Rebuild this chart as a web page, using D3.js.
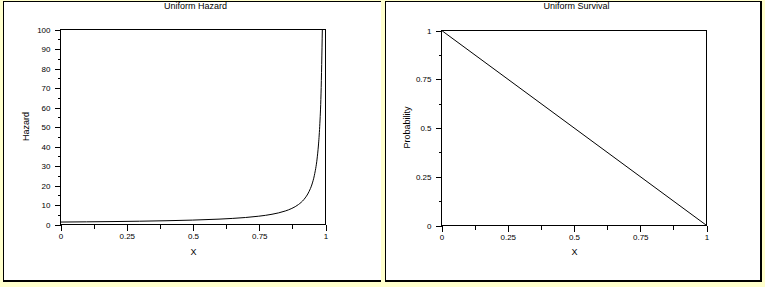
<!DOCTYPE html>
<html>
<head>
<meta charset="utf-8">
<script src="https://cdn.jsdelivr.net/npm/d3@7"></script>
<style>
  html, body { margin: 0; padding: 0; background: #ffffcc; }
  svg { display: block; }
  text { font-family: "Liberation Sans", Arial, sans-serif; fill: #000; -webkit-font-smoothing: none; }
</style>
</head>
<body>
<svg id="chart" width="765" height="287"></svg>
<script>
// values
const hazX = [0, 0.1, 0.2, 0.3, 0.4, 0.5, 0.6, 0.65, 0.7, 0.75, 0.8, 0.85, 0.875, 0.9, 0.92, 0.94, 0.95, 0.96, 0.97, 0.975, 0.98, 0.985, 0.99];
const hazY = [1, 1.11, 1.25, 1.43, 1.67, 2, 2.5, 2.86, 3.33, 4, 5, 6.67, 8, 10, 12.5, 16.7, 20, 25, 33.3, 40, 50, 66.7, 100];
const survX = [0, 1];
const survY = [1, 0];
const xTicks = [0, 0.25, 0.5, 0.75, 1];
const xMinor = [0.125, 0.375, 0.625, 0.875];
const hazTicks = [0, 10, 20, 30, 40, 50, 60, 70, 80, 90, 100];
const hazMinor = [5, 15, 25, 35, 45, 55, 65, 75, 85, 95];
const survTicks = [0, 0.25, 0.5, 0.75, 1];
const survMinor = [0.125, 0.375, 0.625, 0.875];

const svg = d3.select('#chart');

// panel frames
function frame(x0, y0, x1, y1, rightBorder) {
  svg.append('rect').attr('x', x0).attr('y', y0).attr('width', x1 - x0).attr('height', y1 - y0).attr('fill', '#fff');
  svg.append('line').attr('x1', x0 + 0.5).attr('x2', x0 + 0.5).attr('y1', y0).attr('y2', y1).attr('stroke', '#000');
  svg.append('line').attr('x1', x0).attr('x2', x1).attr('y1', y0 + 0.5).attr('y2', y0 + 0.5).attr('stroke', '#000');
  svg.append('line').attr('x1', x0).attr('x2', x1).attr('y1', y1 - 1).attr('y2', y1 - 1).attr('stroke', '#000').attr('stroke-width', 2);
  if (rightBorder) svg.append('line').attr('x1', x1 - 1).attr('x2', x1 - 1).attr('y1', y0).attr('y2', y1).attr('stroke', '#000').attr('stroke-width', 2);
}
frame(3, 1, 381, 282, false);
frame(385, 1, 762, 282, true);

function panel(o) {
  const x = d3.scaleLinear().domain([0, 1]).range([o.left, o.right]);
  const y = d3.scaleLinear().domain(o.yDomain).range([o.bottom, o.top]);
  const g = svg.append('g');

  g.append('clipPath').attr('id', o.id + 'clip').append('rect')
    .attr('x', o.left).attr('y', o.top).attr('width', o.right - o.left).attr('height', o.bottom - o.top + 1);

  // box
  g.append('rect').attr('x', o.left + 0.5).attr('y', o.top + 0.5)
    .attr('width', o.right - o.left).attr('height', o.bottom - o.top)
    .attr('fill', 'none').attr('stroke', '#000').attr('shape-rendering', 'crispEdges');

  const xAx = d3.axisBottom(x).tickValues(xTicks).tickSize(6).tickPadding(3)
    .tickFormat(d => d3.format('')(d));
  g.append('g').attr('transform', `translate(0.5,${o.bottom + 0.5})`).call(xAx);
  g.append('g').attr('transform', `translate(0.5,${o.bottom + 0.5})`)
    .call(d3.axisBottom(x).tickValues(xMinor).tickSize(4).tickFormat(''));

  const yAx = d3.axisLeft(y).tickValues(o.yTicks).tickSize(6).tickPadding(4)
    .tickFormat(d => d3.format('')(d));
  g.append('g').attr('transform', `translate(${o.left + 0.5},0.5)`).call(yAx);
  g.append('g').attr('transform', `translate(${o.left + 0.5},0.5)`)
    .call(d3.axisLeft(y).tickValues(o.yMinor).tickSize(3).tickFormat(''));

  g.selectAll('.domain').remove();
  g.selectAll('.tick line').attr('stroke', '#000').attr('shape-rendering', 'crispEdges');
  g.selectAll('.tick text').attr('font-size', 8).attr('fill', '#000');

  const line = d3.line().x(d => x(d[0])).y(d => y(d[1])).curve(d3.curveMonotoneX);
  g.append('path').datum(d3.zip(o.xs, o.ys)).attr('d', line)
    .attr('fill', 'none').attr('stroke', '#000').attr('stroke-width', 1)
    .attr('clip-path', `url(#${o.id}clip)`);

  g.append('text').attr('x', (o.left + o.right) / 2 + 3).attr('y', 9)
    .attr('text-anchor', 'middle').attr('font-size', 9).text(o.title);
  g.append('text').attr('x', (o.left + o.right) / 2 + 1).attr('y', 255)
    .attr('text-anchor', 'middle').attr('font-size', 9).text('X');
  g.append('text').attr('transform', `translate(${o.ylabX},${(o.top + o.bottom) / 2}) rotate(-90)`)
    .attr('text-anchor', 'middle').attr('font-size', 9).text(o.ylab);
}

panel({ id: 'haz', left: 60, right: 325, top: 29, bottom: 224, yDomain: [0, 100],
  yTicks: hazTicks, yMinor: hazMinor, xs: hazX, ys: hazY,
  title: 'Uniform Hazard', ylab: 'Hazard', ylabX: 29 });
panel({ id: 'surv', left: 441, right: 706, top: 30, bottom: 225, yDomain: [0, 1],
  yTicks: survTicks, yMinor: survMinor, xs: survX, ys: survY,
  title: 'Uniform Survival', ylab: 'Probability', ylabX: 410 });
</script>
</body>
</html>
